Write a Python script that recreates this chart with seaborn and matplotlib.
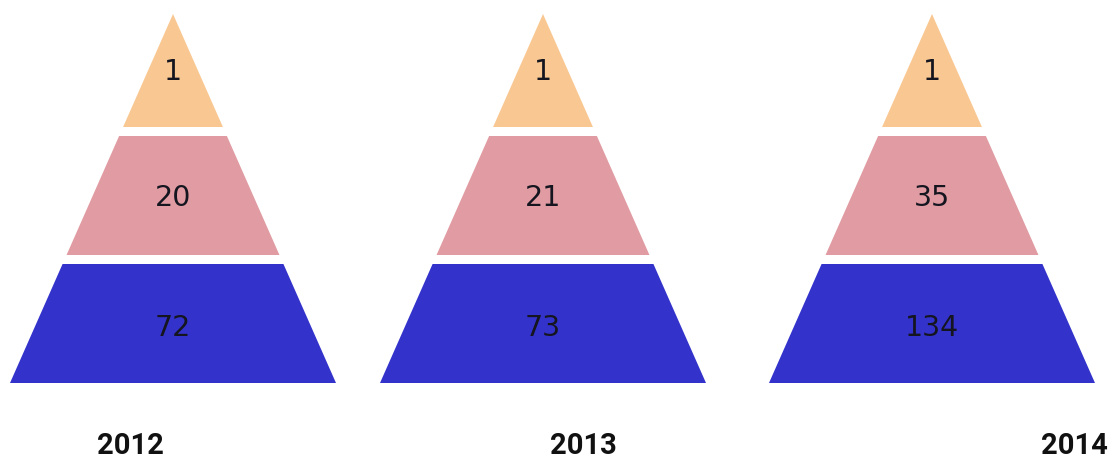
import matplotlib
matplotlib.use("Agg")
import matplotlib.pyplot as plt
import seaborn as sns

# ---- data ----
years = ["2012", "2013", "2014"]
level_names = ["Top", "Middle", "Bottom"]
top_values = [1, 1, 1]
middle_values = [20, 21, 35]
bottom_values = [72, 73, 134]
level_colors = ["#F9C892", "#E09CA2", "#3333CC"]

# ---- layout (pixel-like units) ----
W, H = 1120, 465
centers = [173, 543, 932]
year_x = [130, 583, 1074]
year_y = 446
apex_y, base_y, base_w = 14, 383, 326
seg_bounds = [(apex_y, 127), (136, 255), (264, base_y)]
label_offsets = [1, 2, 4]

sns.set_theme(style="white")
plt.rcParams["font.family"] = ["DejaVu Sans"]

fig = plt.figure(figsize=(W / 100, H / 100), dpi=100)
ax = fig.add_axes([0, 0, 1, 1])
ax.set_xlim(0, W)
ax.set_ylim(H, 0)
ax.axis("off")


def half_width(y):
    return base_w / 2 * (y - apex_y) / (base_y - apex_y)


for i, year in enumerate(years):
    cx = centers[i]
    vals = [top_values[i], middle_values[i], bottom_values[i]]
    for j, (y0, y1) in enumerate(seg_bounds):
        w0, w1 = half_width(y0), half_width(y1)
        xs = [cx - w0, cx + w0, cx + w1, cx - w1]
        ys = [y0, y0, y1, y1]
        ax.fill(xs, ys, color=level_colors[j], linewidth=0)
        ty = (y0 + y1) / 2 + label_offsets[j]
        ax.text(cx, ty, str(vals[j]), ha="center", va="center",
                fontsize=20.5, color="#151520", family="DejaVu Sans")
    ax.text(year_x[i], year_y, year, ha="center", va="center",
            fontsize=21, fontweight="bold",
            color="#111111", family=["Roboto"])

fig.savefig("out.png", dpi=100, facecolor="white")
